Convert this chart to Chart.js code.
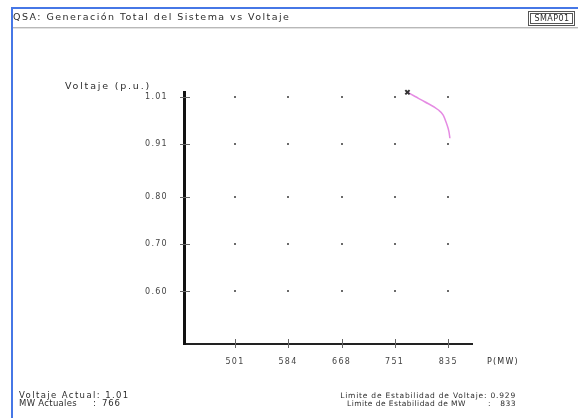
<!DOCTYPE html>
<html>
<head>
<meta charset="utf-8">
<script src="https://cdn.jsdelivr.net/npm/chart.js@4.4.1/dist/chart.umd.min.js"></script>
<style>
  body { margin: 0; background: #fff; }
  canvas { display: block; }
</style>
</head>
<body>
<canvas id="qsaChart" width="578" height="418"></canvas>
<script>
// datos
const xTicks = [501, 584, 668, 751, 835];
const yTicks = [0.60, 0.70, 0.80, 0.91, 1.01];
const curveMW = [771, 783, 798, 819, 827, 832, 836, 837.5];
const curveV = [1.020, 1.011, 1.000, 0.983, 0.972, 0.955, 0.937, 0.923];

const titulo = 'QSA: Generación Total del Sistema vs Voltaje';
const codigo = 'SMAP01';
const ejeY = 'Voltaje (p.u.)';
const ejeX = 'P(MW)';
const voltajeActual = '1.01';
const mwActuales = '766';
const limiteVoltaje = '0.929';
const limiteMW = '833';

const textColor = '#2c2c2c';
const baseFont = '"DejaVu Sans", sans-serif';

function txt(ctx, s, x, y, size, spacing, align) {
    ctx.save();
    ctx.font = size + 'px ' + baseFont;
    ctx.letterSpacing = spacing + 'px';
    ctx.fillStyle = textColor;
    ctx.textAlign = align || 'left';
    ctx.textBaseline = 'middle';
    ctx.fillText(s, x, y);
    ctx.restore();
}

// marco, titulo y textos de la pantalla
const decoracion = {
    id: 'decoracion',
    beforeDraw(chart) {
        const ctx = chart.ctx;
        ctx.save();
        ctx.fillStyle = '#fff';
        ctx.fillRect(0, 0, chart.width, chart.height);
        // bordes azules
        ctx.fillStyle = '#4677e6';
        ctx.fillRect(11, 7, 2, 411);
        ctx.fillRect(11, 7, 567, 2);
        // separador del titulo
        ctx.fillStyle = '#b8b8b8';
        ctx.fillRect(13, 27, 565, 1);
        ctx.fillStyle = '#e2e2e2';
        ctx.fillRect(13, 28, 565, 1);
        // caja SMAP01
        ctx.strokeStyle = '#555';
        ctx.lineWidth = 1;
        ctx.strokeRect(528.5, 11.5, 46, 14);
        ctx.strokeRect(530.5, 13.5, 42, 10);
        ctx.restore();

        txt(ctx, titulo, 13, 18, 9.5, 1.45);
        txt(ctx, codigo, 552, 19, 8, 0.4, 'center');
        txt(ctx, ejeY, 65, 87, 9.5, 1.8);
        txt(ctx, ejeX, 487, 362, 8, 1.2);

        txt(ctx, 'Voltaje Actual: ' + voltajeActual, 19, 396, 8.5, 1.4);
        txt(ctx, 'MW Actuales', 19, 404, 8.5, 0.3);
        txt(ctx, ':', 93, 404, 8.5, 1.0);
        txt(ctx, mwActuales, 102, 404, 8.5, 0.8);

        txt(ctx, 'Limite de Estabilidad de Voltaje: ' + limiteVoltaje, 516, 396, 7.5, 0.8, 'right');
        txt(ctx, 'Limite de Estabilidad de MW', 347, 404, 7.5, 0.45);
        txt(ctx, ':', 488, 404, 7.5, 0.5);
        txt(ctx, limiteMW, 516, 404, 7.5, 0.5, 'right');
        // espaciado para las etiquetas de los ejes
        ctx.letterSpacing = '1.3px';
    },
    afterDatasetsDraw(chart) {
        const ctx = chart.ctx;
        const xs = chart.scales.x, ys = chart.scales.y;
        ctx.save();
        // puntos de la reticula
        ctx.fillStyle = '#6a6a6a';
        xTicks.forEach(mw => {
            yTicks.forEach(v => {
                const px = Math.round(xs.getPixelForValue(mw));
                const py = Math.round(ys.getPixelForValue(v));
                ctx.fillRect(px - 1, py - 1, 2, 2);
            });
        });
        // marcas de los ejes
        ctx.strokeStyle = '#666';
        ctx.lineWidth = 1;
        ctx.beginPath();
        yTicks.forEach(v => {
            const py = Math.round(ys.getPixelForValue(v)) + 0.5;
            ctx.moveTo(180, py);
            ctx.lineTo(190, py);
        });
        xTicks.forEach(mw => {
            const px = Math.round(xs.getPixelForValue(mw)) + 0.5;
            ctx.moveTo(px, 339);
            ctx.lineTo(px, 348);
        });
        ctx.stroke();
        ctx.restore();
    }
};

const puntos = curveMW.map((mw, i) => ({ x: mw, y: curveV[i] }));

new Chart(document.getElementById('qsaChart'), {
    type: 'scatter',
    data: {
        datasets: [{
            data: puntos,
            showLine: true,
            borderColor: '#e58be3',
            borderWidth: 1.5,
            cubicInterpolationMode: 'monotone',
            clip: false,
            pointStyle: 'crossRot',
            pointRadius: ctx => ctx.dataIndex === 0 ? 3 : 0,
            pointBorderColor: '#333',
            pointBorderWidth: 2,
            pointHoverRadius: 0
        }]
    },
    options: {
        responsive: false,
        animation: false,
        events: [],
        layout: { padding: { left: 0, top: 92, right: 106, bottom: 0 } },
        plugins: {
            legend: { display: false },
            tooltip: { enabled: false }
        },
        scales: {
            x: {
                type: 'linear',
                min: 421.1,
                max: 872.1,
                afterBuildTicks: s => { s.ticks = xTicks.map(v => ({ value: v })); },
                afterFit: s => { s.height = 74; },
                grid: { display: false, drawTicks: false },
                border: { display: true, color: '#222', width: 2 },
                ticks: {
                    padding: 13,
                    color: '#444',
                    font: { family: baseFont, size: 8 },
                    callback: v => String(v)
                }
            },
            y: {
                type: 'linear',
                min: 0.4893,
                max: 1.0205,
                afterBuildTicks: s => { s.ticks = yTicks.map(v => ({ value: v })); },
                afterFit: s => { s.width = 184; },
                grid: { display: false, drawTicks: false },
                border: { display: true, color: '#111', width: 3 },
                ticks: {
                    padding: 16,
                    color: '#444',
                    font: { family: baseFont, size: 8 },
                    callback: v => v.toFixed(2)
                }
            }
        }
    },
    plugins: [decoracion]
});
</script>
</body>
</html>
